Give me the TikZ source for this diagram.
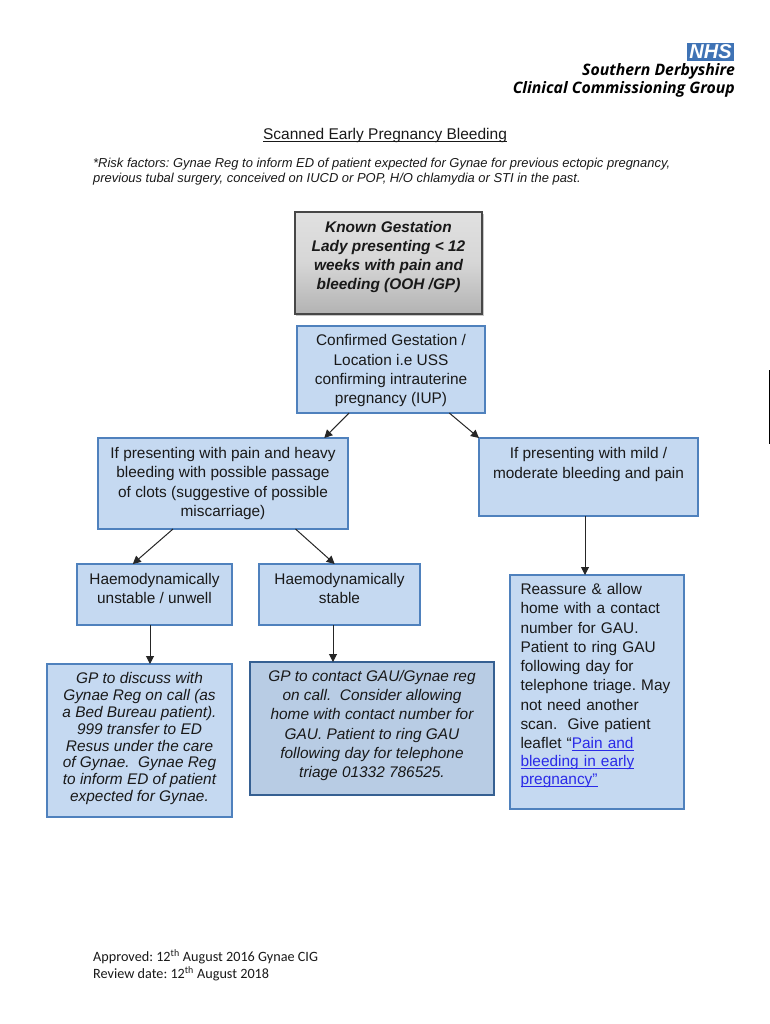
\documentclass[tikz,border=0pt]{standalone}
\usepackage{fontspec}
\setmainfont{Liberation Sans}
\newfontfamily\logofont{Open Sans}
\newfontfamily\footfont{Carlito}
\usetikzlibrary{calc,arrows.meta}
\definecolor{boxfill}{HTML}{C5D9F1}
\definecolor{boxline}{HTML}{4F81BD}
\definecolor{darkfill}{HTML}{B8CCE4}
\definecolor{darkline}{HTML}{366092}
\definecolor{nhsblue}{HTML}{3F73B5}
\definecolor{linkblue}{HTML}{2A2AE8}
\newcommand{\tightul}[1]{\setbox0\hbox{#1}\rlap{\rule[-1.7pt]{\wd0}{0.7pt}}\box0 }
\newcommand{\lnk}[1]{\textcolor{linkblue}{\tightul{#1}}}
\newcommand{\padup}[1]{\\[\dimexpr2\dimexpr#1pt\relax-\baselineskip\relax]\mbox{}}
\frenchspacing
\tikzset{
  x=1pt,y=-1pt,
  txt/.style={inner sep=0pt,outer sep=0pt,align=center,font=\fontsize{15.4}{19.25}\selectfont,text=black!90},
  flow/.style={txt,draw=boxline,fill=boxfill,line width=2.4pt},
  flowdark/.style={flow,draw=darkline,fill=darkfill,line width=2.7pt},
  greybox/.style={txt,draw=black!72,line width=1.3pt,top color=black!12,bottom color=black!30,middle color=black!16},
  conn/.style={draw=black!85,line width=1pt,-{Triangle[length=8pt,width=8pt]}},
}
\newcommand{\bx}[7][flow]{\node[#1,minimum width={#4-#3},minimum height={#6-#5}] (#2) at ({(#3+#4)/2},{(#5+#6)/2}) {#7};}
\begin{document}
\begin{tikzpicture}
\useasboundingbox (0,0) rectangle (770,1024);
% logo
\node[fill=nhsblue,inner sep=0pt,minimum width=47pt,minimum height=18pt,text=white,font=\fontsize{20}{20}\selectfont\bfseries\itshape] (nhs) at (710.5,52) {NHS};
\node[anchor=base east,inner sep=0pt,font=\logofont\fontsize{15.8}{15.8}\selectfont\bfseries\itshape] (sd) at (735,76) {Southern Derbyshire};
\node[anchor=base east,inner sep=0pt,font=\logofont\fontsize{15.8}{15.8}\selectfont\bfseries\itshape] (ccg) at (735,94) {Clinical Commissioning Group};
% heading
\node[anchor=base,inner sep=0pt,font=\fontsize{15.5}{18}\selectfont,text=black!90] (title) at (385,140) {\tightul{Scanned Early Pregnancy Bleeding}};
\node[anchor=north west,inner sep=0pt,align=left,font=\fontsize{12.95}{15.2}\selectfont\itshape,text=black!90] (risk) at (93,158) {*Risk factors: Gynae Reg to inform ED of patient expected for Gynae for previous ectopic pregnancy,\\previous tubal surgery, conceived on IUCD or POP, H/O chlamydia or STI in the past.};
% shadow + grey box
\fill[black!22] (296,214) rectangle (484,316);
\bx[greybox]{known}{295}{482}{212}{314}{\bfseries\itshape Known Gestation\\\bfseries\itshape Lady presenting < 12\\\bfseries\itshape weeks with pain and\\\bfseries\itshape bleeding (OOH /GP)\padup{7.5}}
\bx{conf}{297}{485}{326}{413}{\mbox{}\\[-5.5pt]Confirmed Gestation /\\Location i.e USS\\confirming intrauterine\\pregnancy (IUP)}
\bx{heavy}{98}{348}{438}{529}{If presenting with pain and heavy\\bleeding with possible passage\\of clots (suggestive of possible\\miscarriage)}
\bx{mild}{479}{698}{438}{516}{If presenting with mild /\\moderate bleeding and pain\padup{14}}
\bx{unst}{77}{232}{564}{625}{Haemodynamically\\unstable / unwell\padup{6}}
\bx{stab}{259}{420}{564}{625}{Haemodynamically\\stable\padup{6}}
\bx[flow,font=\fontsize{15.4}{16.9}\selectfont]{gpd}{47}{232}{664}{817}{\itshape GP to discuss with\\\itshape Gynae Reg on call (as\\\itshape a Bed Bureau patient).\\\itshape 999 transfer to ED\\\itshape Resus under the care\\\itshape of Gynae.\ \ Gynae Reg\\\itshape to inform ED of patient\\\itshape expected for Gynae.\padup{3.5}}
\bx[flowdark]{gpc}{250}{494}{662}{795}{\itshape GP to contact GAU/Gynae reg\\\itshape on call.\ \ Consider allowing\\\itshape home with contact number for\\\itshape GAU. Patient to ring GAU\\\itshape following day for telephone\\\itshape triage 01332 786525.\padup{4.5}}
\node[flow,minimum width=174pt,minimum height=234pt,text width=153pt,align=left] (reas) at (597,692) {Reassure \& allow\\home with a contact\\number for GAU.\\Patient to ring GAU\\following day for\\telephone triage. May\\not need another\\scan.\ \ Give patient\\leaflet “\lnk{Pain and}\\[-1.3pt]\lnk{bleeding in early}\\[-1.3pt]\lnk{pregnancy”}\padup{8}};
% connectors
\draw[conn] ($(conf.south west)!0.277!(conf.south east)$) -- ($(heavy.north west)!0.905!(heavy.north east)$);
\draw[conn] ($(conf.south west)!0.81!(conf.south east)$) -- (mild.north west);
\draw[conn] ($(heavy.south west)!0.3!(heavy.south east)$) -- ($(unst.north west)!0.36!(unst.north east)$);
\draw[conn] ($(heavy.south west)!0.79!(heavy.south east)$) -- ($(stab.north west)!0.47!(stab.north east)$);
\draw[conn] (mild.south -| reas.north) ++(-12,0) coordinate (m1) -- (m1 |- reas.north);
\draw[conn] (unst.south west) ++(73,0) coordinate (u1) -- (u1 |- gpd.north);
\draw[conn] (stab.south west) ++(74,0) coordinate (s1) -- (s1 |- gpc.north);
% margin mark
\coordinate (ma) at (769.5,370);
\coordinate (mb) at (769.5,444);
\draw[black,line width=1pt] (ma) -- (mb);
% footer
\node[anchor=north west,inner sep=0pt,align=left,font=\footfont\fontsize{14.2}{17}\selectfont,text=black!90] (foot) at (93,949) {Approved: 12\textsuperscript{th} August 2016 Gynae CIG\\Review date: 12\textsuperscript{th} August 2018};
\end{tikzpicture}
\end{document}
